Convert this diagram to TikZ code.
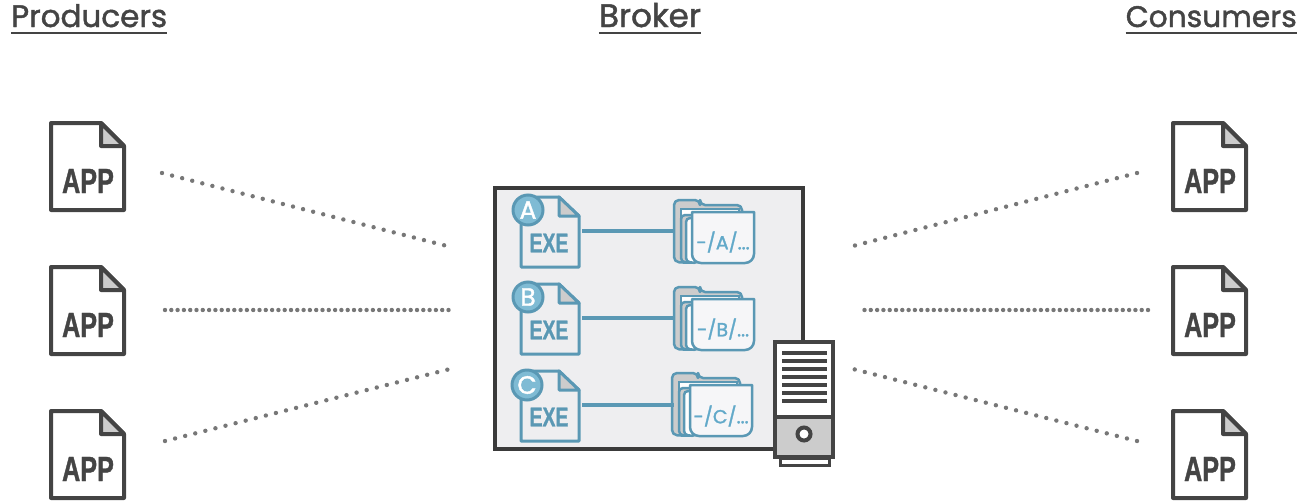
\documentclass[tikz,border=0pt]{standalone}
\usepackage{fontspec}
\usepackage{xcolor}
\setmainfont{Poppins}
\newfontfamily\headfont[FakeBold=1.5]{Poppins}
\newfontfamily\iconfont[FakeStretch=0.72,FakeBold=1]{Liberation Sans}
\definecolor{darkink}{HTML}{444444}
\definecolor{foldgray}{HTML}{CCCCCC}
\definecolor{boxgray}{HTML}{EEEEF0}
\definecolor{tealline}{HTML}{5A98B4}
\definecolor{tealfill}{HTML}{7FBBD4}
\definecolor{tealtext}{HTML}{62A9C9}
\definecolor{dotgray}{HTML}{777777}

\begin{document}
\begin{tikzpicture}[
    x=1pt, y=-1pt,
    headnode/.style={inner sep=0pt, text=darkink, font=\headfont\fontsize{#1}{30}\selectfont},
    headline/.style={draw=darkink, line width=2pt},
    dotline/.style={draw=dotgray, line width=4.4pt, line cap=round, dash pattern=on 0pt off 10.4pt},
    densedots/.style={dotline, dash pattern=on 0pt off 6.3pt},
    linkline/.style={draw=tealline, line width=3.4pt},
    badgenode/.style={circle, draw=tealline, fill=tealfill, line width=3pt, minimum size=30pt, inner sep=0pt, text=white, font=\headfont\fontsize{25}{25}\selectfont},
    appfile/.pic={
        \draw[darkink, line width=4pt, fill=white, line join=round] (0,0) -- (50,0) -- (73,23) -- (73,87) -- (0,87) -- cycle;
        \draw[darkink, line width=4pt, fill=foldgray, line join=round] (50,0) -- (73,23) -- (50,23) -- cycle;
        \node[inner sep=0pt, text=darkink, font=\iconfont\bfseries\fontsize{35}{35}\selectfont] (-txt) at (37,58) {APP};
    },
    exefile/.pic={
        \draw[tealline, line width=3pt, fill=boxgray, line join=round] (0,0) -- (38,0) -- (58,19) -- (58,70) -- (0,70) -- cycle;
        \draw[tealline, line width=3pt, fill=foldgray, line join=round] (38,0) -- (58,19) -- (38,19) -- cycle;
        \node[inner sep=0pt, text=tealline, font=\iconfont\bfseries\fontsize{27}{27}\selectfont] (-txt) at (28,46) {EXE};
    },
    folder/.pic={
        \draw[tealline, line width=2.5pt, fill=foldgray, line join=round, rounded corners=5pt] (0,62) -- (0,0) -- (26,0) -- (26,5) -- (68,5) -- (68,20) -- (18,63) -- cycle;
        \draw[tealline, line width=2pt, fill=white] (7,9) -- (65,9) -- (65,30) -- (7,30) -- cycle;
        \draw[tealline, line width=2.5pt, fill=foldgray, rounded corners=4pt] (7,62) -- (7,15) -- (24,15) -- (24,63) -- cycle;
        \draw[tealline, line width=2.5pt, fill=white, rounded corners=4pt] (12,62) -- (12,18) -- (24,18) -- (24,63) -- cycle;
        \draw[tealline, line width=2.5pt, fill=boxgray!50!white, line join=round] (18,12) -- (80,12) -- (80,46) [rounded corners=9pt] -- (80,63) -- (18,63) [sharp corners] -- cycle;
    },
    foldertext/.style={inner sep=0pt, text=tealtext, font=\headfont\fontsize{19}{19}\selectfont},
]
\useasboundingbox (0,0) rectangle (1297,501);

% headings
\node[headnode=31, anchor=base west](producers) at (11,27){Producers};
\node[headnode=32.5, anchor=base](broker) at (650,27){Broker};
\node[headnode=29.7, anchor=base east](consumers) at (1297,27){Consumers};
\draw[headline] (producers.base west |- 0,33) -- (producers.base east |- 0,33);
\draw[headline] (broker.base west |- 0,33) -- (broker.base east |- 0,33);
\draw[headline] (consumers.base west |- 0,33) -- (consumers.base east |- 0,33);

% applications
\pic (prodA) at (51,123) {appfile};
\pic (prodB) at (51,267) {appfile};
\pic (prodC) at (51,411) {appfile};
\pic (consA) at (1173,123) {appfile};
\pic (consB) at (1173,267) {appfile};
\pic (consC) at (1173,411) {appfile};

% broker box
\draw[draw=darkink!85!black, line width=4.5pt, fill=boxgray] (495,188) rectangle (803,449);

\pic (exeA) at (521,197) {exefile};
\pic (exeB) at (521,284) {exefile};
\pic (exeC) at (521,371) {exefile};
\node[badgenode] (badgeA) at (528,210) {A};
\node[badgenode] (badgeB) at (528,297) {B};
\node[badgenode] (badgeC) at (527,385) {C};

\pic (dirA) at (674,200) {folder};
\pic (dirB) at (674,287) {folder};
\pic (dirC) at (672,373) {folder};
\node[foldertext] (pathA) at (723,242) {-/A/...};
\node[foldertext] (pathB) at (723,329) {-/B/...};
\node[foldertext] (pathC) at (721,416) {-/C/...};

\coordinate (exeAout) at (582,231);
\coordinate (exeBout) at (582,318);
\coordinate (exeCout) at (582,405);
\coordinate (dirAin) at (674,231);
\coordinate (dirBin) at (674,318);
\coordinate (dirCin) at (674,405);
\draw[linkline] (exeAout) -- (dirAin);
\draw[linkline] (exeBout) -- (dirBin);
\draw[linkline] (exeCout) -- (dirCin);

% server
\draw[darkink, line width=3pt, fill=white] (780,458) rectangle (829,465);
\draw[darkink, line width=4pt, fill=white] (775,342) rectangle (833,417);
\draw[darkink, line width=4pt, fill=foldgray] (775,417) rectangle (833,457);
\foreach \y in {353,361,369,377,385,393,401}
    \draw[darkink, line width=4pt] (782,\y) -- (827,\y);
\draw[darkink, line width=4pt, fill=white] (804,434) circle (6.5);

% dotted links
\coordinate (pAend) at (162,173);
\coordinate (pBend) at (165,310);
\coordinate (pCend) at (165,441);
\coordinate (bLA) at (447,246);
\coordinate (bLB) at (449,310);
\coordinate (bLC) at (450,369);
\coordinate (cAend) at (1137,173);
\coordinate (cBend) at (1148,310);
\coordinate (cCend) at (1137,441);
\coordinate (bRA) at (853,246);
\coordinate (bRB) at (863,310);
\coordinate (bRC) at (853,369);
\draw[dotline] (pAend) -- (bLA);
\draw[densedots] (pBend) -- (bLB);
\draw[dotline] (pCend) -- (bLC);
\draw[dotline] (cAend) -- (bRA);
\draw[densedots] (cBend) -- (bRB);
\draw[dotline] (cCend) -- (bRC);
\end{tikzpicture}
\end{document}
